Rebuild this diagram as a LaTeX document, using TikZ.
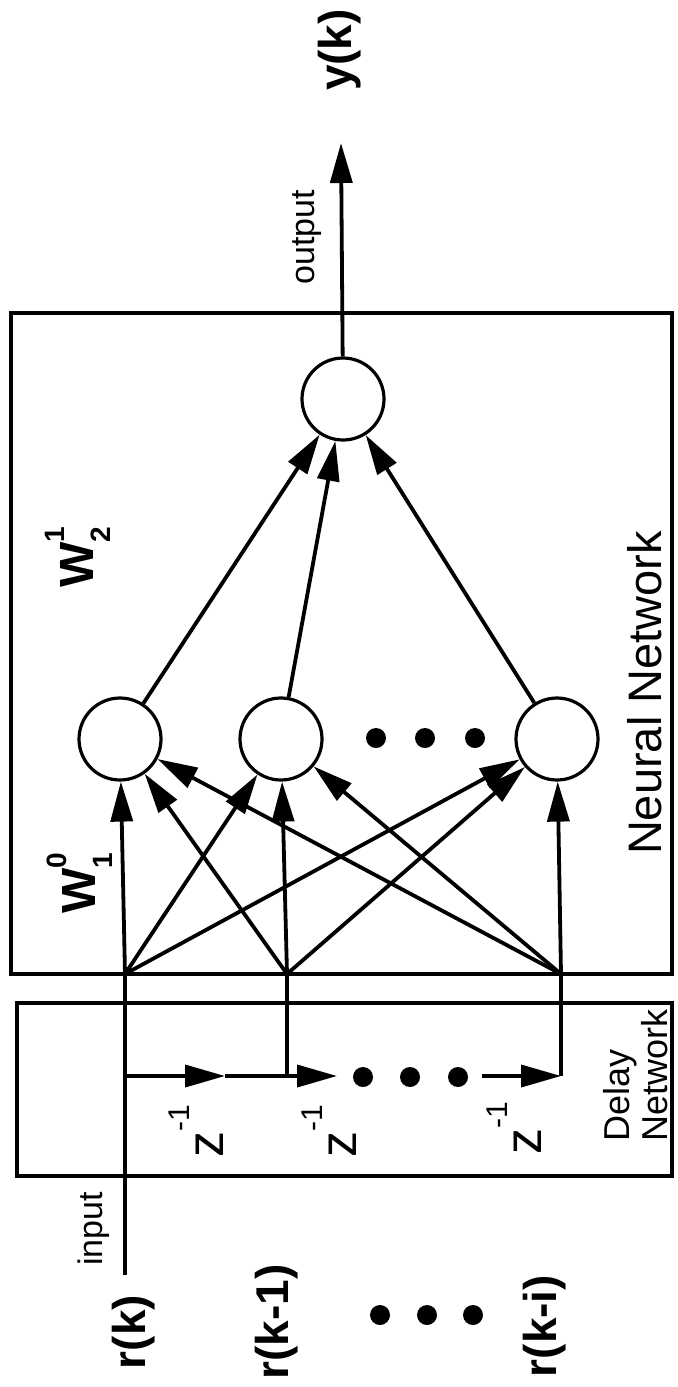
\documentclass[tikz,border=0pt]{standalone}
\usepackage{fontspec}
\setmainfont{Liberation Sans}
\usetikzlibrary{arrows.meta, positioning}

\newcommand{\wlab}[2]{\textbf{W}\rlap{\raisebox{0.6em}{\fontsize{14}{14}\selectfont\bfseries #1}}\raisebox{-0.35em}{\fontsize{14}{14}\selectfont\bfseries #2}}
\newcommand{\zinv}{z\raisebox{0.65em}{\fontsize{15}{15}\selectfont -1}}

\begin{document}
\begin{tikzpicture}[
  x=0.5pt, y=-0.5pt,
  box/.style={draw, line width=2.1pt},
  neuron/.style={circle, draw, line width=1.6pt, minimum size=41pt, inner sep=0pt},
  dot/.style={circle, fill, minimum size=10pt, inner sep=0pt},
  wire/.style={line width=1.9pt},
  link/.style={line width=1.9pt, -{Triangle[length=20pt, width=11pt]}},
  tag/.style={rotate=90, inner sep=0pt, font=\fontsize{17}{17}\selectfont},
  sig/.style={rotate=90, inner sep=0pt, font=\fontsize{23}{23}\selectfont\bfseries},
]
  \useasboundingbox (0,0) rectangle (677,1387);

  % the two blocks
  \draw[box] (11,313) rectangle (672,974);
  \draw[box] (17,1003) rectangle (672,1176);

  \node[neuron] (out) at (343,399) {};
  \node[neuron] (h1) at (120,739) {};
  \node[neuron] (h2) at (281,739) {};
  \node[neuron] (h3) at (557,739) {};
  \foreach \x [count=\i] in {376,425,475}
    \node[dot] (hd\i) at (\x,738) {};

  \coordinate (s1) at (125,974);
  \coordinate (s2) at (287,974);
  \coordinate (s3) at (561,974);
  \coordinate (in) at (125,1275);
  \coordinate (d1) at (125,1076);
  \coordinate (d2) at (287,1076);
  \coordinate (d3) at (561,1076);
  \coordinate (a1) at (225,1076);
  \coordinate (a2) at (337,1076);
  \coordinate (b3) at (482,1076);
  \coordinate (yk) at (341,143);

  % delay line
  \draw[wire] (in) -- (s1);
  \draw[link] (d1) -- (a1);
  \draw[wire] (a1) -- (d2) -- (s2);
  \draw[link] (d2) -- (a2);
  \foreach \x [count=\i] in {363,410,458}
    \node[dot] (dd\i) at (\x,1077) {};
  \draw[link] (b3) -- (d3);
  \draw[wire] (d3) -- (s3);

  % weights
  \foreach \s in {s1,s2,s3}
    \foreach \h in {h1,h2,h3}
      \draw[link] (\s) -- (\h);
  \foreach \h in {h1,h2,h3}
    \draw[link] (\h) -- (out);
  \draw[link] (out) -- (yk);

  % labels
  \node[tag] (outlab) at (307,237) {output};
  \node[tag] (inlab) at (94,1229) {input};
  \node[sig] (yklab) at (340,50) {y(k)};
  \node[sig] (rk) at (134,1332) {r(k)};
  \node[sig] (rk1) at (277,1322) {r(k-1)};
  \node[sig] (rki) at (545,1326) {r(k-i)};
  \foreach \x [count=\i] in {380,427,473}
    \node[dot] (rd\i) at (\x,1315) {};

  \node[rotate=90, inner sep=0pt, font=\fontsize{24}{24}\selectfont] (w10) at (80,883) {\wlab{0}{1}};
  \node[rotate=90, inner sep=0pt, font=\fontsize{24}{24}\selectfont] (w21) at (78,557) {\wlab{1}{2}};

  \node[tag, font=\fontsize{26}{26}\selectfont] (z1) at (196,1131) {\zinv};
  \node[tag, font=\fontsize{26}{26}\selectfont] (z2) at (329,1131) {\zinv};
  \node[tag, font=\fontsize{26}{26}\selectfont] (z3) at (514,1128) {\zinv};

  \node[rotate=90, inner sep=0pt, font=\fontsize{23.5}{23.5}\selectfont] (nnlab) at (645,693) {Neural Network};
  \node[rotate=90, inner sep=0pt, align=left, font=\fontsize{18}{19}\selectfont] (dnlab) at (636,1075) {Delay\\Network};
\end{tikzpicture}
\end{document}
